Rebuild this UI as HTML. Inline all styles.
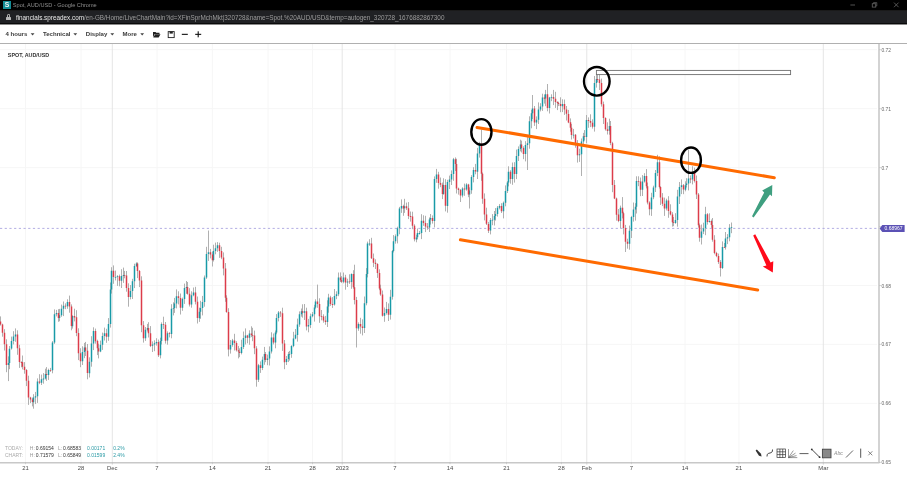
<!DOCTYPE html>
<html><head><meta charset="utf-8">
<style>
*{margin:0;padding:0;box-sizing:border-box}
body{will-change:transform}
html,body{width:907px;height:477px;overflow:hidden;background:#fff;font-family:"Liberation Sans",sans-serif}
.a{position:absolute;white-space:nowrap;line-height:1}
#title{position:absolute;left:0;top:0;width:907px;height:10px;background:#000}
#addr{position:absolute;left:0;top:10px;width:907px;height:13px;background:#202124;border-top:1px solid #1a1a1a}
#addr2{position:absolute;left:0;top:23px;width:907px;height:1px;background:#0a0a0a}
#addr3{position:absolute;left:0;top:24px;width:907px;height:1px;background:#8a8a8a}
#tb{position:absolute;left:0;top:25px;width:907px;height:19px;background:#fff;border-bottom:1px solid #b0b0b0}
.tt{font-size:6.05px;font-weight:bold;color:#3a3a3a}
.dl{font-size:5.9px;color:#4a4a4a;transform:translateX(-50%)}
.pl{font-size:4.9px;color:#666}
.st{font-size:5px}
</style></head><body>
<div id="title"></div>
<div id="addr"></div><div id="addr2"></div><div id="addr3"></div>
<div id="tb"></div>
<!-- favicon -->
<div class="a" style="left:2.8px;top:1.2px;width:7.8px;height:7.9px;background:#148d97"></div>
<div class="a" style="left:4.7px;top:1.9px;font-size:6.8px;font-weight:bold;color:#f4f4f4">S</div>
<div class="a" style="left:12.8px;top:2.8px;font-size:5.6px;color:#8f8f8f">Spot, AUD/USD - Google Chrome</div>
<!-- window controls -->
<svg class="a" style="left:0;top:0" width="907" height="12" viewBox="0 0 907 12">
 <path d="M850.4 5H855" stroke="#5c5c5c" stroke-width="0.9"/>
 <rect x="872.3" y="3.7" width="3.4" height="3.4" fill="none" stroke="#5c5c5c" stroke-width="0.9"/>
 <path d="M873.5 3.7V2.6H876.8V5.9H875.7" fill="none" stroke="#5c5c5c" stroke-width="0.8"/>
 <path d="M894 2.6L898.6 7.2M898.6 2.6L894 7.2" stroke="#5c5c5c" stroke-width="0.9"/>
</svg>
<!-- lock -->
<div class="a" style="left:6.2px;top:16.6px;width:4.4px;height:3.3px;background:#b5b5b5;border-radius:0.6px"></div>
<div class="a" style="left:6.9px;top:13.8px;width:3px;height:3.6px;border:0.9px solid #b0b0b0;border-bottom:none;border-radius:1.5px 1.5px 0 0"></div>
<div class="a" style="left:15.9px;top:14.7px;font-size:6.35px;color:#9c9c9c"><span style="color:#e8e8e8">financials.spreadex.com</span>/en-GB/Home/LiveChartMain?id=XFinSprMchMkt|320728&amp;name=Spot.%20AUD/USD&amp;temp=autogen_320728_1676882867300</div>
<!-- toolbar -->
<div class="a tt" style="left:5.5px;top:31.2px">4 hours</div>
<div class="a tt" style="left:43px;top:31.2px">Technical</div>
<div class="a tt" style="left:85.8px;top:31.2px">Display</div>
<div class="a tt" style="left:122.5px;top:31.2px">More</div>
<svg class="a" style="left:0;top:0" width="907" height="477" viewBox="0 0 907 477">
 <g fill="#444">
  <path d="M30.7 33.3h3.8l-1.9 2.2z"/>
  <path d="M73.4 33.3h3.8l-1.9 2.2z"/>
  <path d="M110.4 33.3h3.8l-1.9 2.2z"/>
  <path d="M140.3 33.3h3.8l-1.9 2.2z"/>
 </g>
 <!-- folder -->
 <path d="M153 32h2.5l0.8 0.8h3.2v1.2h-4.8l-1.7 3.2z M153.3 37.4l1.8-3.1h5.4l-1.8 3.1z" fill="#222"/>
 <!-- save -->
 <rect x="168.2" y="31.6" width="6" height="6" fill="none" stroke="#222" stroke-width="0.9"/>
 <rect x="169.6" y="31.6" width="3.2" height="2" fill="#222"/>
 <!-- minus/plus -->
 <rect x="181.8" y="33.8" width="6" height="1.1" fill="#111"/>
 <rect x="195.2" y="33.8" width="6" height="1.1" fill="#111"/>
 <rect x="197.65" y="31.3" width="1.1" height="6" fill="#111"/>

 <!-- horizontal grid -->
 <g stroke="#f5f5f5" stroke-width="0.9">
  <path d="M0 49.7H877M0 108.7H877M0 167.6H877M0 285.5H877M0 344.4H877M0 403.4H877"/>
 </g>
 <!-- vertical grid -->
 <g stroke="#f5f5f5" stroke-width="0.9">
  <path d="M25.5 44V462M81 44V462M157 44V462M212.4 44V462M268 44V462M312.5 44V462M395 44V462M450 44V462M506.5 44V462M561.4 44V462M631.4 44V462M685.1 44V462M738.9 44V462"/>
 </g>
 <g stroke="#e2e2e2" stroke-width="0.9">
  <path d="M112.3 44V462M342.2 44V462M586.8 44V462M823.3 44V462"/>
 </g>
 <!-- axes -->
 <path d="M879 44V463" stroke="#cfcfcf" stroke-width="1.8"/>
 <path d="M0 462.7H879.5" stroke="#c8c8c8" stroke-width="1.4"/>
 <g stroke="#bbb" stroke-width="0.6">
  <path d="M879 49.7h2.2M879 108.7h2.2M879 167.6h2.2M879 226.6h2.2M879 285.5h2.2M879 344.4h2.2M879 403.4h2.2M879 462.4h2.2"/>
  <path d="M112.3 462v2.6M342.2 462v2.6M586.8 462v2.6M823.3 462v2.6M25.5 462v2.2M81 462v2.2M157 462v2.2M212.4 462v2.2M268 462v2.2M312.5 462v2.2M395 462v2.2M450 462v2.2M506.5 462v2.2M561.4 462v2.2M631.4 462v2.2M685.1 462v2.2M738.9 462v2.2"/>
 </g>
 <!-- dashed current price -->
 <path d="M0 228.4H879" stroke="#9f98dc" stroke-width="0.8" stroke-dasharray="2.2 2.5"/>

 <path d="M0.50 316.4V325.6M2.50 323.7V336.7M4.50 329.2V350.5M6.50 339.3V372.2M8.50 356.4V381.1M9.50 346.0V369.2M11.50 336.6V349.6M13.50 331.2V344.4M15.50 328.4V341.8M17.50 330.3V354.8M19.50 344.8V367.9M21.50 361.3V367.3M22.50 355.5V369.4M24.50 362.1V373.7M26.50 369.1V386.1M28.50 375.7V404.9M30.50 396.8V403.1M32.50 397.7V406.4M33.50 394.2V408.7M35.50 391.9V404.1M37.50 378.4V402.9M39.50 374.2V384.2M41.50 374.6V385.0M43.50 373.1V383.7M45.50 368.7V379.5M46.50 367.1V380.9M48.50 368.7V379.9M50.50 367.9V371.9M52.50 341.1V373.3M54.50 309.4V343.9M56.50 309.9V316.4M58.50 309.2V321.8M59.50 308.9V321.3M61.50 304.6V316.8M63.50 301.5V316.1M65.50 303.4V309.2M67.50 299.3V308.8M69.50 295.6V312.7M71.50 304.4V330.3M72.50 315.2V328.6M74.50 308.7V321.4M76.50 310.2V336.2M78.50 328.3V360.1M80.50 348.2V367.2M82.50 346.3V365.0M84.50 342.9V358.2M85.50 341.9V356.0M87.50 344.0V379.3M89.50 357.3V377.5M91.50 336.2V366.7M93.50 327.3V350.1M95.50 328.6V343.7M97.50 339.7V355.1M98.50 343.7V358.4M100.50 340.6V352.2M102.50 332.6V349.9M104.50 327.6V340.5M106.50 328.8V342.8M108.50 318.1V340.8M110.50 282.5V327.6M111.50 267.2V293.6M113.50 265.4V283.8M115.50 270.6V280.4M117.50 275.2V285.9M119.50 274.6V286.3M121.50 269.2V288.0M123.50 267.6V282.9M124.50 270.9V278.3M126.50 271.0V291.7M128.50 283.3V306.7M130.50 285.0V299.4M132.50 278.8V299.0M134.50 263.7V288.1M136.50 262.3V267.0M137.50 262.4V278.1M139.50 270.0V287.1M141.50 276.3V332.2M143.50 321.1V342.6M145.50 327.0V340.9M147.50 323.9V331.5M148.50 322.2V337.5M150.50 326.1V347.1M152.50 341.4V352.0M154.50 340.3V351.2M156.50 338.2V345.6M158.50 339.6V357.0M160.50 337.7V358.4M161.50 322.4V344.5M163.50 316.7V329.0M165.50 322.0V343.6M167.50 331.4V344.7M169.50 332.2V337.4M171.50 304.2V338.3M173.50 302.3V315.4M174.50 297.9V312.9M176.50 289.4V308.4M178.50 291.3V304.4M180.50 293.5V314.5M182.50 297.6V310.8M184.50 283.6V303.9M186.50 281.0V293.8M187.50 282.0V294.7M189.50 288.2V306.5M191.50 291.3V307.7M193.50 287.5V296.3M195.50 286.8V304.4M197.50 296.5V323.5M199.50 307.6V321.9M200.50 300.8V318.8M202.50 295.9V315.4M204.50 275.5V306.7M206.50 246.8V278.9M208.50 230.5V260.9M210.50 248.9V258.4M212.50 251.7V266.5M213.50 244.7V261.5M215.50 242.6V254.3M217.50 242.1V251.8M219.50 242.7V257.9M221.50 246.8V259.2M223.50 252.4V275.4M225.50 263.0V301.8M226.50 295.3V312.8M228.50 308.2V356.4M230.50 340.0V353.6M232.50 338.9V346.7M234.50 333.8V350.5M236.50 341.2V351.5M238.50 345.9V358.4M239.50 348.3V357.2M241.50 339.7V354.4M243.50 331.5V349.0M245.50 328.4V344.5M247.50 334.8V343.3M249.50 330.3V344.8M251.50 326.3V337.1M252.50 327.8V341.2M254.50 330.6V354.2M256.50 346.2V386.7M258.50 363.9V382.0M260.50 361.4V372.9M262.50 356.6V370.1M264.50 346.9V364.8M265.50 352.0V362.2M267.50 354.6V365.2M269.50 346.4V365.5M271.50 332.3V353.5M273.50 333.5V344.4M275.50 330.5V348.3M276.50 314.1V334.3M278.50 311.0V321.4M280.50 311.0V316.9M282.50 307.7V350.9M284.50 340.0V369.2M286.50 356.0V365.0M288.50 351.9V362.1M289.50 350.9V360.6M291.50 345.2V357.8M293.50 331.8V347.2M295.50 329.0V339.3M297.50 318.6V341.6M299.50 311.4V326.8M301.50 308.5V316.7M302.50 304.3V317.7M304.50 304.0V320.0M306.50 307.7V330.4M308.50 318.9V332.3M310.50 313.6V328.1M312.50 312.0V317.3M314.50 304.8V321.6M315.50 299.3V308.7M317.50 284.6V307.8M319.50 298.3V322.8M321.50 310.0V320.3M323.50 314.3V322.7M325.50 315.9V324.8M327.50 300.3V327.0M328.50 293.8V312.7M330.50 295.8V305.9M332.50 297.1V307.9M334.50 289.0V305.6M336.50 291.3V299.2M338.50 272.5V296.2M340.50 272.4V282.1M341.50 276.1V282.9M343.50 272.5V283.3M345.50 274.8V289.7M347.50 278.7V287.0M349.50 274.3V283.9M351.50 273.4V288.8M353.50 270.2V288.8M354.50 264.7V304.4M356.50 296.9V347.5M358.50 322.4V330.8M360.50 317.8V333.7M362.50 319.3V335.4M364.50 296.5V333.0M366.50 268.1V305.3M367.50 241.6V277.4M369.50 239.2V245.8M371.50 237.8V259.0M373.50 253.5V267.1M375.50 259.3V269.0M377.50 263.2V277.9M379.50 269.3V290.2M380.50 284.7V295.8M382.50 290.5V316.6M384.50 307.5V321.8M386.50 301.9V314.6M388.50 303.4V321.0M390.50 289.8V319.6M392.50 250.0V299.6M393.50 235.1V252.4M395.50 234.4V243.7M397.50 226.7V243.4M399.50 206.9V234.3M401.50 199.4V212.9M403.50 204.7V215.8M404.50 198.8V212.9M406.50 202.6V210.0M408.50 202.1V219.1M410.50 211.5V221.6M412.50 211.7V229.2M414.50 224.3V241.4M416.50 234.7V242.3M417.50 228.5V239.3M419.50 230.9V234.6M421.50 214.2V239.1M423.50 215.3V225.8M425.50 215.8V232.1M427.50 223.1V229.8M429.50 217.4V232.0M430.50 214.0V224.6M432.50 215.4V223.6M434.50 176.4V227.4M436.50 168.9V182.8M438.50 171.8V188.7M440.50 177.5V187.2M442.50 182.5V199.1M443.50 178.3V194.8M445.50 179.2V211.4M447.50 179.8V212.7M449.50 175.6V189.0M451.50 170.4V185.0M453.50 157.9V180.8M455.50 157.4V171.0M456.50 158.7V193.5M458.50 187.6V194.6M460.50 189.0V202.0M462.50 187.3V197.4M464.50 183.6V195.8M466.50 183.2V190.7M468.50 183.8V197.2M469.50 187.3V208.5M471.50 175.2V193.8M473.50 167.2V182.4M475.50 163.9V174.3M477.50 147.8V179.0M479.50 141.8V157.6M481.50 129.5V180.8M482.50 172.5V203.8M484.50 193.4V220.4M486.50 207.7V225.0M488.50 221.9V233.0M490.50 218.0V234.4M492.50 214.1V225.2M494.50 211.0V225.5M495.50 208.1V220.6M497.50 206.0V216.6M499.50 204.1V209.4M501.50 203.2V213.0M503.50 201.5V218.4M505.50 185.4V206.3M507.50 181.1V193.0M508.50 166.3V186.4M510.50 170.2V183.7M512.50 162.5V184.8M514.50 162.2V182.6M516.50 149.6V179.1M518.50 146.4V161.0M520.50 139.7V151.4M521.50 140.6V152.5M523.50 146.3V159.2M525.50 141.2V161.4M527.50 136.1V170.0M529.50 116.3V148.7M531.50 109.8V128.3M532.50 95.0V119.0M534.50 106.0V125.9M536.50 116.4V129.1M538.50 102.4V124.0M540.50 103.2V111.4M542.50 93.7V110.9M544.50 94.5V103.6M545.50 89.9V106.2M547.50 84.0V111.3M549.50 96.9V113.5M551.50 94.3V101.2M553.50 89.9V105.1M555.50 91.8V107.9M557.50 101.3V110.1M558.50 101.7V106.1M560.50 97.3V112.2M562.50 99.3V112.1M564.50 99.5V114.9M566.50 106.0V120.5M568.50 109.9V123.2M570.50 118.4V131.7M571.50 123.9V139.5M573.50 128.9V138.5M575.50 134.0V147.7M577.50 140.1V162.6M579.50 148.7V161.9M581.50 138.5V176.0M583.50 132.9V146.0M584.50 130.1V140.5M586.50 115.0V143.2M588.50 117.4V127.8M590.50 114.3V127.1M592.50 119.3V128.6M594.50 76.0V131.6M596.50 73.8V87.6M597.50 75.0V82.2M599.50 73.7V90.0M601.50 78.6V106.6M603.50 101.6V124.0M605.50 117.3V130.6M607.50 122.3V134.5M609.50 118.7V134.7M610.50 121.0V145.2M612.50 141.8V192.2M614.50 180.0V199.1M616.50 197.6V220.6M618.50 209.0V222.2M620.50 205.6V228.4M622.50 197.1V218.4M623.50 211.7V234.4M625.50 224.9V252.0M627.50 238.7V248.7M629.50 225.6V249.7M631.50 215.9V238.0M633.50 202.5V221.6M635.50 203.2V220.6M636.50 176.3V213.5M638.50 176.3V186.2M640.50 177.5V196.2M642.50 175.1V196.0M644.50 173.2V182.6M646.50 169.1V188.4M647.50 182.5V204.4M649.50 201.3V215.3M651.50 192.8V215.9M653.50 185.7V199.2M655.50 170.0V192.0M657.50 154.8V176.1M659.50 156.3V188.5M660.50 186.2V205.0M662.50 193.1V206.1M664.50 197.6V215.9M666.50 198.7V210.4M668.50 196.2V217.8M670.50 204.3V215.4M672.50 212.2V226.6M673.50 217.0V226.2M675.50 213.2V223.8M677.50 189.8V226.7M679.50 182.0V204.0M681.50 179.4V194.1M683.50 184.0V194.2M685.50 181.3V191.3M686.50 178.2V187.5M688.50 150.0V190.4M690.50 175.4V183.2M692.50 166.2V184.4M694.50 167.7V182.5M696.50 175.5V199.0M698.50 193.0V227.6M699.50 223.5V241.7M701.50 224.5V244.5M703.50 222.7V234.1M705.50 206.8V235.2M707.50 213.1V224.6M709.50 213.3V222.6M711.50 219.5V227.8M712.50 218.0V241.7M714.50 235.2V254.3M716.50 251.8V257.2M718.50 253.6V263.9M720.50 260.1V276.5M722.50 241.4V269.0M724.50 243.0V247.9M725.50 232.0V249.6M727.50 234.1V244.1M729.50 224.1V241.3M731.50 222.5V233.2" stroke="#b0b0b0" stroke-width="1" fill="none"/><path d="M7.75 362.9h1.5v2.2h-1.5zM8.75 348.7h1.5v14.3h-1.5zM10.75 340.9h1.5v7.7h-1.5zM12.75 336.4h1.5v4.5h-1.5zM14.75 334.5h1.5v1.9h-1.5zM32.75 397.5h1.5v4.7h-1.5zM34.75 396.2h1.5v1.2h-1.5zM36.75 381.4h1.5v14.9h-1.5zM40.75 379.2h1.5v3.5h-1.5zM42.75 378.6h1.5v0.8h-1.5zM44.75 373.9h1.5v4.7h-1.5zM47.75 369.9h1.5v5.1h-1.5zM51.75 342.4h1.5v27.9h-1.5zM53.75 314.2h1.5v28.2h-1.5zM55.75 312.9h1.5v1.3h-1.5zM58.75 315.2h1.5v2.7h-1.5zM60.75 308.8h1.5v6.5h-1.5zM62.75 305.7h1.5v3.0h-1.5zM66.75 302.1h1.5v4.1h-1.5zM71.75 315.9h1.5v10.3h-1.5zM81.75 352.1h1.5v9.1h-1.5zM83.75 347.4h1.5v4.7h-1.5zM88.75 361.7h1.5v11.5h-1.5zM90.75 343.5h1.5v18.2h-1.5zM92.75 330.9h1.5v12.6h-1.5zM99.75 344.7h1.5v6.8h-1.5zM101.75 336.1h1.5v8.6h-1.5zM103.75 333.2h1.5v2.9h-1.5zM107.75 324.0h1.5v12.8h-1.5zM109.75 289.4h1.5v34.6h-1.5zM110.75 270.8h1.5v18.6h-1.5zM114.75 277.0h1.5v0.8h-1.5zM116.75 276.2h1.5v0.8h-1.5zM120.75 275.9h1.5v4.9h-1.5zM122.75 275.0h1.5v0.9h-1.5zM129.75 291.1h1.5v6.0h-1.5zM131.75 281.2h1.5v9.9h-1.5zM133.75 266.1h1.5v15.1h-1.5zM135.75 263.4h1.5v2.7h-1.5zM144.75 329.7h1.5v8.6h-1.5zM146.75 327.9h1.5v1.8h-1.5zM151.75 344.6h1.5v1.2h-1.5zM153.75 343.2h1.5v1.4h-1.5zM155.75 341.9h1.5v1.3h-1.5zM159.75 340.9h1.5v14.4h-1.5zM160.75 324.0h1.5v16.9h-1.5zM166.75 333.3h1.5v7.3h-1.5zM170.75 308.8h1.5v25.3h-1.5zM172.75 307.9h1.5v0.9h-1.5zM173.75 303.5h1.5v4.4h-1.5zM175.75 296.2h1.5v7.3h-1.5zM181.75 299.0h1.5v8.7h-1.5zM183.75 288.0h1.5v11.0h-1.5zM185.75 287.1h1.5v1.0h-1.5zM190.75 295.3h1.5v9.3h-1.5zM192.75 292.5h1.5v2.7h-1.5zM198.75 311.7h1.5v6.5h-1.5zM199.75 308.1h1.5v3.6h-1.5zM201.75 302.1h1.5v6.0h-1.5zM203.75 277.5h1.5v24.6h-1.5zM205.75 254.1h1.5v23.4h-1.5zM207.75 252.3h1.5v1.8h-1.5zM212.75 251.0h1.5v9.1h-1.5zM214.75 248.3h1.5v2.7h-1.5zM216.75 245.2h1.5v3.1h-1.5zM229.75 345.1h1.5v4.4h-1.5zM231.75 340.6h1.5v4.5h-1.5zM240.75 347.0h1.5v6.0h-1.5zM242.75 338.1h1.5v8.9h-1.5zM244.75 335.6h1.5v2.5h-1.5zM248.75 333.6h1.5v4.2h-1.5zM257.75 365.3h1.5v14.4h-1.5zM261.75 359.8h1.5v8.2h-1.5zM263.75 354.1h1.5v5.7h-1.5zM266.75 358.6h1.5v1.4h-1.5zM268.75 351.6h1.5v7.0h-1.5zM270.75 337.5h1.5v14.1h-1.5zM274.75 332.5h1.5v9.9h-1.5zM275.75 318.1h1.5v14.4h-1.5zM277.75 312.5h1.5v5.6h-1.5zM285.75 359.1h1.5v3.0h-1.5zM287.75 354.3h1.5v4.8h-1.5zM288.75 353.9h1.5v0.8h-1.5zM290.75 346.0h1.5v7.9h-1.5zM292.75 338.6h1.5v7.4h-1.5zM294.75 334.8h1.5v3.7h-1.5zM296.75 324.4h1.5v10.5h-1.5zM298.75 314.3h1.5v10.1h-1.5zM300.75 311.2h1.5v3.1h-1.5zM303.75 311.2h1.5v1.6h-1.5zM307.75 325.1h1.5v1.3h-1.5zM309.75 316.3h1.5v8.8h-1.5zM311.75 314.2h1.5v2.1h-1.5zM313.75 307.6h1.5v6.6h-1.5zM314.75 301.6h1.5v6.0h-1.5zM326.75 306.5h1.5v15.5h-1.5zM327.75 297.6h1.5v8.9h-1.5zM333.75 296.1h1.5v8.3h-1.5zM335.75 294.3h1.5v1.8h-1.5zM337.75 277.6h1.5v16.7h-1.5zM342.75 277.5h1.5v4.2h-1.5zM346.75 281.4h1.5v1.1h-1.5zM350.75 273.9h1.5v8.1h-1.5zM357.75 324.0h1.5v4.4h-1.5zM363.75 303.3h1.5v24.8h-1.5zM365.75 274.1h1.5v29.2h-1.5zM366.75 243.6h1.5v30.5h-1.5zM368.75 243.6h1.5v0.8h-1.5zM383.75 313.1h1.5v2.7h-1.5zM385.75 309.0h1.5v4.1h-1.5zM389.75 296.7h1.5v18.1h-1.5zM391.75 250.9h1.5v45.8h-1.5zM392.75 241.3h1.5v9.6h-1.5zM394.75 236.3h1.5v5.0h-1.5zM396.75 228.3h1.5v8.0h-1.5zM398.75 208.5h1.5v19.8h-1.5zM400.75 206.0h1.5v2.6h-1.5zM403.75 206.2h1.5v2.1h-1.5zM415.75 237.4h1.5v2.0h-1.5zM416.75 233.1h1.5v4.2h-1.5zM418.75 233.1h1.5v0.8h-1.5zM420.75 220.8h1.5v12.3h-1.5zM428.75 219.6h1.5v8.0h-1.5zM429.75 218.1h1.5v1.5h-1.5zM433.75 179.1h1.5v41.9h-1.5zM435.75 174.6h1.5v4.5h-1.5zM442.75 184.9h1.5v9.2h-1.5zM446.75 182.0h1.5v23.9h-1.5zM448.75 179.4h1.5v2.6h-1.5zM450.75 174.0h1.5v5.4h-1.5zM452.75 159.3h1.5v14.6h-1.5zM461.75 188.5h1.5v6.9h-1.5zM465.75 184.4h1.5v5.1h-1.5zM468.75 190.4h1.5v4.2h-1.5zM470.75 176.9h1.5v13.4h-1.5zM472.75 170.1h1.5v6.8h-1.5zM476.75 153.6h1.5v18.1h-1.5zM478.75 143.6h1.5v10.0h-1.5zM489.75 220.1h1.5v10.5h-1.5zM491.75 219.8h1.5v0.8h-1.5zM493.75 216.1h1.5v3.7h-1.5zM494.75 214.0h1.5v2.1h-1.5zM496.75 207.8h1.5v6.2h-1.5zM498.75 206.0h1.5v1.8h-1.5zM502.75 202.8h1.5v8.4h-1.5zM504.75 191.0h1.5v11.7h-1.5zM506.75 182.4h1.5v8.6h-1.5zM507.75 171.7h1.5v10.7h-1.5zM511.75 167.0h1.5v12.0h-1.5zM515.75 156.1h1.5v17.8h-1.5zM517.75 149.1h1.5v7.0h-1.5zM519.75 144.6h1.5v4.5h-1.5zM524.75 145.1h1.5v9.0h-1.5zM526.75 143.2h1.5v1.9h-1.5zM528.75 121.2h1.5v22.0h-1.5zM530.75 113.2h1.5v8.0h-1.5zM531.75 108.4h1.5v4.8h-1.5zM535.75 119.8h1.5v2.7h-1.5zM537.75 109.4h1.5v10.4h-1.5zM539.75 106.5h1.5v2.9h-1.5zM541.75 97.5h1.5v9.0h-1.5zM544.75 94.2h1.5v4.4h-1.5zM548.75 97.4h1.5v10.6h-1.5zM550.75 96.9h1.5v0.8h-1.5zM561.75 104.1h1.5v2.1h-1.5zM572.75 134.7h1.5v0.8h-1.5zM578.75 154.3h1.5v0.9h-1.5zM580.75 141.6h1.5v12.7h-1.5zM582.75 136.3h1.5v5.2h-1.5zM585.75 120.0h1.5v17.1h-1.5zM593.75 82.9h1.5v43.9h-1.5zM595.75 79.1h1.5v3.8h-1.5zM608.75 126.0h1.5v4.8h-1.5zM619.75 207.8h1.5v13.2h-1.5zM628.75 230.7h1.5v13.0h-1.5zM630.75 216.9h1.5v13.9h-1.5zM632.75 209.6h1.5v7.3h-1.5zM634.75 206.7h1.5v2.9h-1.5zM635.75 181.0h1.5v25.7h-1.5zM641.75 181.5h1.5v8.3h-1.5zM643.75 176.1h1.5v5.4h-1.5zM650.75 197.4h1.5v11.8h-1.5zM652.75 187.5h1.5v9.8h-1.5zM654.75 173.0h1.5v14.5h-1.5zM656.75 162.3h1.5v10.7h-1.5zM665.75 200.6h1.5v8.0h-1.5zM674.75 219.9h1.5v3.1h-1.5zM676.75 196.6h1.5v23.3h-1.5zM678.75 187.0h1.5v9.6h-1.5zM680.75 185.2h1.5v1.8h-1.5zM684.75 185.2h1.5v4.5h-1.5zM685.75 183.4h1.5v1.7h-1.5zM687.75 178.6h1.5v4.9h-1.5zM691.75 172.6h1.5v7.0h-1.5zM700.75 231.6h1.5v6.1h-1.5zM702.75 228.2h1.5v3.4h-1.5zM704.75 214.3h1.5v14.0h-1.5zM708.75 221.0h1.5v1.0h-1.5zM721.75 247.0h1.5v21.1h-1.5zM724.75 238.6h1.5v8.7h-1.5zM726.75 237.2h1.5v1.4h-1.5zM728.75 227.7h1.5v9.5h-1.5zM730.75 226.9h1.5v0.8h-1.5z" fill="#189aa7"/><path d="M-0.25 321.4h1.5v3.2h-1.5zM1.75 324.6h1.5v8.1h-1.5zM3.75 332.7h1.5v11.5h-1.5zM5.75 344.2h1.5v20.9h-1.5zM16.75 334.5h1.5v13.7h-1.5zM18.75 348.2h1.5v13.9h-1.5zM20.75 362.1h1.5v0.8h-1.5zM21.75 362.2h1.5v4.5h-1.5zM23.75 366.7h1.5v3.3h-1.5zM25.75 370.0h1.5v10.7h-1.5zM27.75 380.7h1.5v16.8h-1.5zM29.75 397.5h1.5v1.9h-1.5zM31.75 399.4h1.5v2.7h-1.5zM38.75 381.4h1.5v1.3h-1.5zM45.75 373.9h1.5v1.0h-1.5zM49.75 369.9h1.5v0.8h-1.5zM57.75 312.9h1.5v5.0h-1.5zM64.75 305.7h1.5v0.8h-1.5zM68.75 302.1h1.5v4.4h-1.5zM70.75 306.5h1.5v19.6h-1.5zM73.75 315.9h1.5v1.5h-1.5zM75.75 317.3h1.5v15.8h-1.5zM77.75 333.1h1.5v20.1h-1.5zM79.75 353.3h1.5v7.9h-1.5zM84.75 347.4h1.5v3.4h-1.5zM86.75 350.8h1.5v22.3h-1.5zM94.75 330.9h1.5v10.3h-1.5zM96.75 341.1h1.5v7.1h-1.5zM97.75 348.2h1.5v3.3h-1.5zM105.75 333.2h1.5v3.6h-1.5zM112.75 270.8h1.5v6.3h-1.5zM118.75 276.2h1.5v4.6h-1.5zM123.75 275.0h1.5v0.8h-1.5zM125.75 275.4h1.5v12.7h-1.5zM127.75 288.1h1.5v8.9h-1.5zM136.75 263.4h1.5v7.6h-1.5zM138.75 271.0h1.5v9.6h-1.5zM140.75 280.6h1.5v44.6h-1.5zM142.75 325.2h1.5v13.0h-1.5zM147.75 327.9h1.5v5.3h-1.5zM149.75 333.2h1.5v12.7h-1.5zM157.75 341.9h1.5v13.4h-1.5zM162.75 324.0h1.5v0.8h-1.5zM164.75 324.7h1.5v16.0h-1.5zM168.75 333.3h1.5v0.8h-1.5zM177.75 296.2h1.5v1.9h-1.5zM179.75 298.0h1.5v9.7h-1.5zM186.75 287.1h1.5v6.7h-1.5zM188.75 293.8h1.5v10.8h-1.5zM194.75 292.5h1.5v9.2h-1.5zM196.75 301.7h1.5v16.4h-1.5zM209.75 252.3h1.5v2.2h-1.5zM211.75 254.5h1.5v5.7h-1.5zM218.75 245.2h1.5v5.7h-1.5zM220.75 250.9h1.5v6.5h-1.5zM222.75 257.4h1.5v11.2h-1.5zM224.75 268.5h1.5v29.2h-1.5zM225.75 297.8h1.5v14.2h-1.5zM227.75 312.0h1.5v37.5h-1.5zM233.75 340.6h1.5v2.4h-1.5zM235.75 343.0h1.5v7.3h-1.5zM237.75 350.3h1.5v1.3h-1.5zM238.75 351.7h1.5v1.3h-1.5zM246.75 335.6h1.5v2.2h-1.5zM250.75 333.6h1.5v1.3h-1.5zM251.75 334.9h1.5v0.8h-1.5zM253.75 335.6h1.5v12.7h-1.5zM255.75 348.4h1.5v31.4h-1.5zM259.75 365.3h1.5v2.7h-1.5zM264.75 354.1h1.5v5.8h-1.5zM272.75 337.5h1.5v4.9h-1.5zM279.75 312.5h1.5v0.8h-1.5zM281.75 313.3h1.5v30.1h-1.5zM283.75 343.5h1.5v18.7h-1.5zM301.75 311.2h1.5v1.6h-1.5zM305.75 311.2h1.5v15.2h-1.5zM316.75 301.6h1.5v2.4h-1.5zM318.75 304.0h1.5v12.3h-1.5zM320.75 316.3h1.5v0.8h-1.5zM322.75 316.5h1.5v4.0h-1.5zM324.75 320.5h1.5v1.4h-1.5zM329.75 297.6h1.5v6.5h-1.5zM331.75 304.1h1.5v0.8h-1.5zM339.75 277.6h1.5v2.7h-1.5zM340.75 280.3h1.5v1.4h-1.5zM344.75 277.5h1.5v5.1h-1.5zM348.75 281.4h1.5v0.8h-1.5zM352.75 273.9h1.5v13.3h-1.5zM353.75 287.2h1.5v12.9h-1.5zM355.75 300.0h1.5v28.3h-1.5zM359.75 324.0h1.5v2.5h-1.5zM361.75 326.4h1.5v1.7h-1.5zM370.75 243.6h1.5v14.6h-1.5zM372.75 258.2h1.5v4.6h-1.5zM374.75 262.8h1.5v1.1h-1.5zM376.75 263.9h1.5v9.2h-1.5zM378.75 273.0h1.5v15.4h-1.5zM379.75 288.5h1.5v6.1h-1.5zM381.75 294.5h1.5v21.3h-1.5zM387.75 309.0h1.5v5.8h-1.5zM402.75 206.0h1.5v2.4h-1.5zM405.75 206.2h1.5v2.1h-1.5zM407.75 208.3h1.5v7.8h-1.5zM409.75 216.1h1.5v0.8h-1.5zM411.75 216.5h1.5v9.2h-1.5zM413.75 225.7h1.5v13.6h-1.5zM422.75 220.8h1.5v2.1h-1.5zM424.75 222.9h1.5v3.5h-1.5zM426.75 226.4h1.5v1.2h-1.5zM431.75 218.1h1.5v2.9h-1.5zM437.75 174.6h1.5v8.3h-1.5zM439.75 182.9h1.5v1.9h-1.5zM441.75 184.8h1.5v9.3h-1.5zM444.75 184.9h1.5v20.9h-1.5zM454.75 159.3h1.5v4.7h-1.5zM455.75 164.0h1.5v24.6h-1.5zM457.75 188.6h1.5v1.3h-1.5zM459.75 189.9h1.5v5.5h-1.5zM463.75 188.5h1.5v1.0h-1.5zM467.75 184.4h1.5v10.1h-1.5zM474.75 170.1h1.5v1.5h-1.5zM480.75 143.6h1.5v30.1h-1.5zM481.75 173.7h1.5v25.1h-1.5zM483.75 198.8h1.5v15.6h-1.5zM485.75 214.4h1.5v9.4h-1.5zM487.75 223.9h1.5v6.8h-1.5zM500.75 206.0h1.5v5.2h-1.5zM509.75 171.7h1.5v7.4h-1.5zM513.75 167.0h1.5v6.9h-1.5zM520.75 144.6h1.5v3.4h-1.5zM522.75 148.1h1.5v6.0h-1.5zM533.75 108.4h1.5v14.2h-1.5zM543.75 97.5h1.5v1.2h-1.5zM546.75 94.2h1.5v13.7h-1.5zM552.75 96.9h1.5v1.8h-1.5zM554.75 98.7h1.5v3.3h-1.5zM556.75 102.0h1.5v1.0h-1.5zM557.75 102.9h1.5v1.2h-1.5zM559.75 104.1h1.5v2.0h-1.5zM563.75 104.1h1.5v5.5h-1.5zM565.75 109.5h1.5v4.3h-1.5zM567.75 113.9h1.5v8.5h-1.5zM569.75 122.3h1.5v5.4h-1.5zM570.75 127.7h1.5v7.4h-1.5zM574.75 134.7h1.5v8.2h-1.5zM576.75 143.0h1.5v12.2h-1.5zM583.75 136.3h1.5v0.8h-1.5zM587.75 120.0h1.5v0.9h-1.5zM589.75 121.0h1.5v1.8h-1.5zM591.75 122.7h1.5v4.1h-1.5zM596.75 79.1h1.5v0.8h-1.5zM598.75 79.6h1.5v3.4h-1.5zM600.75 83.1h1.5v21.2h-1.5zM602.75 104.3h1.5v13.8h-1.5zM604.75 118.1h1.5v11.2h-1.5zM606.75 129.3h1.5v1.6h-1.5zM609.75 126.0h1.5v17.1h-1.5zM611.75 143.2h1.5v41.8h-1.5zM613.75 185.0h1.5v13.5h-1.5zM615.75 198.5h1.5v16.2h-1.5zM617.75 214.6h1.5v6.5h-1.5zM621.75 207.8h1.5v5.5h-1.5zM622.75 213.3h1.5v14.6h-1.5zM624.75 227.9h1.5v13.8h-1.5zM626.75 241.8h1.5v1.9h-1.5zM637.75 181.0h1.5v0.8h-1.5zM639.75 181.6h1.5v8.2h-1.5zM645.75 176.1h1.5v10.1h-1.5zM646.75 186.2h1.5v16.2h-1.5zM648.75 202.5h1.5v6.7h-1.5zM658.75 162.3h1.5v24.6h-1.5zM659.75 186.9h1.5v10.6h-1.5zM661.75 197.5h1.5v6.3h-1.5zM663.75 203.8h1.5v4.8h-1.5zM667.75 200.6h1.5v10.5h-1.5zM669.75 211.2h1.5v3.3h-1.5zM671.75 214.5h1.5v7.7h-1.5zM672.75 222.2h1.5v0.8h-1.5zM682.75 185.2h1.5v4.4h-1.5zM689.75 178.6h1.5v1.0h-1.5zM693.75 172.6h1.5v8.4h-1.5zM695.75 181.0h1.5v13.6h-1.5zM697.75 194.6h1.5v30.6h-1.5zM698.75 225.2h1.5v12.6h-1.5zM706.75 214.3h1.5v7.8h-1.5zM710.75 221.0h1.5v3.9h-1.5zM711.75 224.9h1.5v14.8h-1.5zM713.75 239.7h1.5v13.2h-1.5zM715.75 252.9h1.5v3.2h-1.5zM717.75 256.1h1.5v5.9h-1.5zM719.75 262.0h1.5v6.1h-1.5zM723.75 247.0h1.5v0.8h-1.5z" fill="#dc3c4a"/>

 <!-- annotations -->
 <rect x="596.4" y="70.4" width="194.2" height="4.2" fill="#fff" stroke="#6e6e6e" stroke-width="0.9"/>
 <g stroke="#ff6a00" stroke-width="3" stroke-linecap="round">
  <path d="M477 127.4L774.3 177.7"/>
  <path d="M460.4 239.8L757.7 290"/>
 </g>
 <g fill="none" stroke="#000" stroke-width="2.4">
  <ellipse cx="596.8" cy="81.3" rx="12.8" ry="14.3"/>
  <ellipse cx="481.4" cy="131.9" rx="10.1" ry="12.8"/>
  <ellipse cx="691" cy="160.2" rx="9.9" ry="12.7"/>
 </g>
 <path d="M752 216.2 L764.2 192.4 L762.2 190.6 L772.3 185 L772 196.3 L770 194.4 L753.6 217.6 Z" fill="#3f9f80"/>
 <path d="M753.2 235.4 L755.2 234.2 L770.6 262.6 L773.3 261.2 L772.8 272.5 L762.8 266.4 L766.4 265.4 Z" fill="#ff0a1a"/>

 <!-- price tag -->
 <path d="M879.6 228.5L882.3 225H904.6V232H882.3Z" fill="#5b51b5"/>
 <!-- drawing tools -->
 <g fill="#333" stroke="#333">
  <path d="M755.6 450.6l1.2-1.2l4.2 4.4l0.6 2.6l-2.6-0.6z" stroke="none"/>
  <path d="M767 456.5c0-3 1-3 3-3.5s2.5-1 2.5-3.5" fill="none" stroke-width="0.9"/>
  <g stroke-width="0.7" fill="none"><rect x="777" y="449" width="8.6" height="8.6"/><path d="M777 451.8h8.6M777 454.6h8.6M779.9 449v8.6M782.7 449v8.6"/></g>
  <g stroke-width="0.6" fill="none" stroke="#555"><path d="M788.5 449v8.6h8.8M788.5 457.6l4.8-7M788.5 457.6l7-4.5M788.5 457.6l8-2"/></g>
  <path d="M799.5 453.6h9" stroke-width="0.8"/>
  <path d="M811.8 449.4l7.8 7.8" stroke-width="0.9"/>
  <circle cx="811.8" cy="449.4" r="0.9" stroke="none"/><circle cx="819.6" cy="457.2" r="0.9" stroke="none"/>
  <rect x="822.4" y="449.2" width="8.6" height="8.6" fill="#888" stroke="#444" stroke-width="0.9"/>
  <path d="M846 457.5l7-7" stroke-width="0.9" stroke="#555"/>
  <path d="M860.7 448.6v9.2" stroke-width="0.9" stroke="#444"/>
  <path d="M868.3 451.3l4 4M872.3 451.3l-4 4" stroke-width="0.8" stroke="#666"/>
 </g>
</svg>
<div class="a" style="left:834px;top:451px;font-size:5.2px;font-style:italic;color:#888">Abc</div>
<div class="a" style="left:7.8px;top:52.6px;font-size:5.4px;font-weight:bold;color:#333">SPOT, AUD/USD</div>
<!-- price tag text -->
<div class="a" style="left:884.5px;top:225.8px;font-size:5px;color:#fff">0.68967</div>
<!-- price labels -->
<div class="a pl" style="left:881.5px;top:48.7px">0.72</div>
<div class="a pl" style="left:881.5px;top:107.7px">0.71</div>
<div class="a pl" style="left:881.5px;top:166.6px">0.7</div>
<div class="a pl" style="left:881.5px;top:284.5px">0.68</div>
<div class="a pl" style="left:881.5px;top:343.4px">0.67</div>
<div class="a pl" style="left:881.5px;top:402.4px">0.66</div>
<div class="a pl" style="left:881.5px;top:461.4px">0.65</div>
<!-- date labels -->
<div class="a dl" style="left:25.5px;top:466.0px">21</div>
<div class="a dl" style="left:81px;top:466.0px">28</div>
<div class="a dl" style="left:112.3px;top:466.0px">Dec</div>
<div class="a dl" style="left:157px;top:466.0px">7</div>
<div class="a dl" style="left:212.4px;top:466.0px">14</div>
<div class="a dl" style="left:268px;top:466.0px">21</div>
<div class="a dl" style="left:312.5px;top:466.0px">28</div>
<div class="a dl" style="left:342.2px;top:466.0px">2023</div>
<div class="a dl" style="left:395px;top:466.0px">7</div>
<div class="a dl" style="left:450px;top:466.0px">14</div>
<div class="a dl" style="left:506.5px;top:466.0px">21</div>
<div class="a dl" style="left:561.4px;top:466.0px">28</div>
<div class="a dl" style="left:586.8px;top:466.0px">Feb</div>
<div class="a dl" style="left:631.4px;top:466.0px">7</div>
<div class="a dl" style="left:685.1px;top:466.0px">14</div>
<div class="a dl" style="left:738.9px;top:466.0px">21</div>
<div class="a dl" style="left:823.3px;top:466.0px">Mar</div>
<!-- stats -->
<div class="a st" style="left:5px;top:445.8px;color:#aaa">TODAY:</div>
<div class="a st" style="left:29.8px;top:445.8px;color:#999">H:</div>
<div class="a st" style="left:35.8px;top:445.8px;color:#333">0.69154</div>
<div class="a st" style="left:58px;top:445.8px;color:#999">L:</div>
<div class="a st" style="left:63px;top:445.8px;color:#333">0.68583</div>
<div class="a st" style="left:87.1px;top:445.8px;color:#2a9aa5">0.00171</div>
<div class="a st" style="left:113.2px;top:445.8px;color:#2a9aa5">0.2%</div>
<div class="a st" style="left:5px;top:452.6px;color:#aaa">CHART:</div>
<div class="a st" style="left:29.8px;top:452.6px;color:#999">H:</div>
<div class="a st" style="left:35.8px;top:452.6px;color:#333">0.71579</div>
<div class="a st" style="left:58px;top:452.6px;color:#999">L:</div>
<div class="a st" style="left:63px;top:452.6px;color:#333">0.65849</div>
<div class="a st" style="left:87.1px;top:452.6px;color:#2a9aa5">0.01599</div>
<div class="a st" style="left:113.2px;top:452.6px;color:#2a9aa5">2.4%</div>
</body></html>
